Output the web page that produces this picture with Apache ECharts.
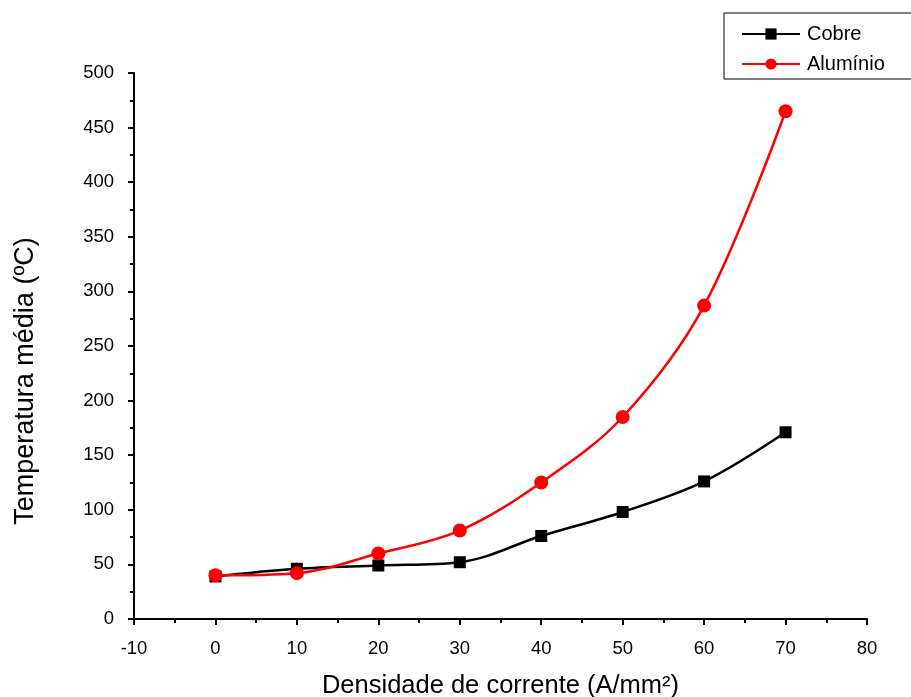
<!DOCTYPE html>
<html><head><meta charset="utf-8">
<script src="https://cdn.jsdelivr.net/npm/echarts@6/dist/echarts.min.js"></script>
<style>html,body{margin:0;padding:0;background:#fff}#c{width:911px;height:697px}</style>
</head><body><div id="c"></div>
<script>
const xValues = [0, 10, 20, 30, 40, 50, 60, 70];
const cobre = [39, 46, 49, 52, 76, 98, 126, 171];
const aluminio = [40, 42, 60, 81, 125, 185, 287, 465];
const xName = 'Densidade de corrente (A/mm²)';
const yName = 'Temperatura média (ºC)';

const chart = echarts.init(document.getElementById('c'));
const font = 'Liberation Sans, Arial, sans-serif';
chart.setOption({
  backgroundColor: '#fff',
  animation: false,
  grid: {left: 134, right: 44, top: 73, bottom: 78, containLabel: false, outerBoundsMode: 'none'},
  legend: {
    orient: 'vertical', left: 724, top: 13,
    borderColor: '#000', borderWidth: 1,
    padding: [11, 40, 5, 17], itemGap: 10,
    itemWidth: 58, itemHeight: 14,
    textStyle: {fontFamily: font, fontSize: 20, color: '#000', padding: [0,0,0,2]},
    data: ['Cobre', 'Alumínio']
  },
  xAxis: {
    type: 'value', min: -10, max: 80, interval: 10,
    name: xName, nameLocation: 'middle', nameGap: 54,
    nameTextStyle: {fontFamily: font, fontSize: 25.5, color: '#000'},
    axisLine: {onZero: false, lineStyle: {color: '#000', width: 2}},
    axisTick: {length: 6, lineStyle: {width: 2, color: '#000'}},
    minorTick: {show: true, splitNumber: 2, length: 4, lineStyle: {width: 2, color: '#000'}},
    axisLabel: {fontFamily: font, fontSize: 18.5, color: '#000', margin: 20},
    splitLine: {show: false}
  },
  yAxis: {
    type: 'value', min: 0, max: 500, interval: 50,
    name: yName, nameLocation: 'middle', nameGap: 95, nameRotate: 90,
    nameTextStyle: {fontFamily: font, fontSize: 27, color: '#000', padding: [0, 70, 0, 0]},
    axisLine: {show: true, onZero: false, lineStyle: {color: '#000', width: 2}},
    axisTick: {show: true, length: 6, lineStyle: {width: 2, color: '#000'}},
    minorTick: {show: true, splitNumber: 2, length: 4, lineStyle: {width: 2, color: '#000'}},
    axisLabel: {fontFamily: font, fontSize: 18.5, color: '#000', margin: 20},
    splitLine: {show: false}
  },
  series: [
    {name: 'Cobre', type: 'line', smooth: 0.35,
     data: xValues.map((x, i) => [x, cobre[i]]),
     symbol: 'rect', symbolSize: 12, color: '#000',
     lineStyle: {width: 2.5, color: '#000'}, itemStyle: {color: '#000'}},
    {name: 'Alumínio', type: 'line', smooth: 0.35,
     data: xValues.map((x, i) => [x, aluminio[i]]),
     symbol: 'circle', symbolSize: 14, color: '#ff0000',
     lineStyle: {width: 2.5, color: '#ff0000'}, itemStyle: {color: '#ff0000'}}
  ]
});
</script></body></html>
